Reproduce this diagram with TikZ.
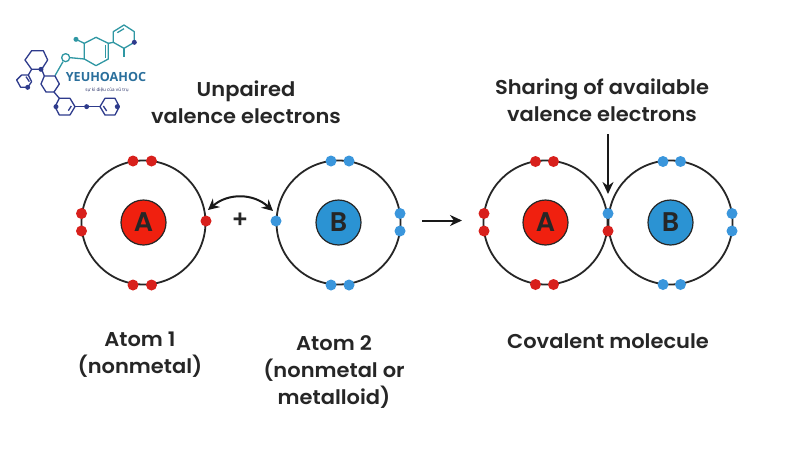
\documentclass[tikz,border=0pt]{standalone}
\usepackage{fontspec}
\setmainfont{Open Sans}
\newfontfamily\labfont[FakeStretch=1.05]{Poppins SemiBold}
\newfontfamily\nucfont{Poppins SemiBold}
\usetikzlibrary{arrows.meta}
\definecolor{redA}{HTML}{F0200F}
\definecolor{redE}{HTML}{D8201C}
\definecolor{blueB}{HTML}{2B93D3}
\definecolor{blueE}{HTML}{3A96DC}
\definecolor{ink}{HTML}{262626}
\definecolor{teal1}{HTML}{2F97A3}
\definecolor{teal2}{HTML}{2A6F9C}
\definecolor{navy}{HTML}{2E3B8C}
\tikzset{
  orbit/.style={circle,draw=ink,line width=1.8pt,minimum size=124pt,inner sep=0pt},
  nucA/.style={circle,draw=black!85,line width=1.2pt,fill=redA,minimum size=45pt,inner sep=0pt,font=\nucfont\fontsize{27}{27}\selectfont,text=black!85},
  nucB/.style={circle,draw=black!85,line width=1.2pt,fill=blueB,minimum size=45pt,inner sep=0pt,font=\nucfont\fontsize{27}{27}\selectfont,text=black!85},
  eR/.style={circle,fill=redE,minimum size=11pt,inner sep=0pt},
  eB/.style={circle,fill=blueE,minimum size=11pt,inner sep=0pt},
  lab/.style={align=center,text=ink,font=\labfont\fontsize{20}{27}\selectfont},
  arr/.style={line width=2pt,draw=black!90,-{Stealth[length=12pt,width=11pt]}},
  dbl/.style={line width=2pt,draw=black!90,{Stealth[length=11pt,width=11pt]}-{Stealth[length=11pt,width=11pt]}},
  lgT/.style={line width=1.3pt,draw=teal1,line join=round},
  lgN/.style={line width=1.3pt,draw=navy,line join=round},
  dotT/.style={circle,fill=teal1,minimum size=5pt,inner sep=0pt},
  dotN/.style={circle,fill=navy,minimum size=5pt,inner sep=0pt},
}
\begin{document}
\begin{tikzpicture}[x=1pt,y=-1pt]
\useasboundingbox[fill=white] (0,0) rectangle (800,450);
% logo
\begin{scope}[shift={(0,10)},x=0.3333pt,y=-0.3333pt]
\draw[lgT] (340,65)--(372,45)--(403,65)--(403,97)--(372,115)--(340,97)--cycle;
\draw[lgT] (352,68)--(372,56);
\draw[lgT] (372,115)--(372,140);
\draw[lgT] (253,100)--(288,82)--(325,100)--(325,147)--(288,167)--(253,147)--cycle;
\draw[lgT] (316,105)--(316,145);
\draw[lgT] (325,100)--(340,97);
\draw[lgT] (228,88)--(253,100);
\draw[lgT] (253,147)--(210,143);
\draw[lgT] (197,143) circle[radius=12];
\draw[lgT] (189,155)--(165,197);
\node[dotN] (l1) at (403,97) {};
\node[dotT] (l2) at (228,88) {};
\draw[lgN] (75,150)--(95,122)--(130,122)--(143,150)--(125,178)--(95,178)--cycle;
\draw[lgN] (50,210)--(65,195)--(85,195)--(95,215)--(83,232)--(62,232)--cycle;
\draw[lgN] (78,200)--(88,215);
\draw[lgN] (95,178)--(85,195);
\draw[lgN] (125,178)--(133,198);
\node[dotN] (l3) at (123,178) {};
\node[dotN] (l4) at (83,232) {};
\draw[lgN] (133,198)--(165,198)--(178,222)--(162,246)--(138,246)--(123,222)--cycle;
\draw[lgN] (162,246)--(178,265);
\draw[lgN] (178,265)--(210,265)--(225,290)--(210,315)--(178,315)--(165,290)--cycle;
\draw[lgN] (205,302)--(214,288);
\draw[lgN] (225,290)--(300,290);
\node[dotN] (l5) at (168,290) {};
\node[dotN] (l6) at (260,290) {};
\draw[lgN] (300,290)--(315,265)--(345,265)--(358,290)--(345,315)--(315,315)--cycle;
\draw[lgN] (310,288)--(320,303);
\node[dotN] (l7) at (352,290) {};
\end{scope}
\node[text=teal2,font=\fontsize{12.6}{14}\selectfont\bfseries,inner sep=0pt] (logoT) at (106,77) {YEUHOAHOC};
\node[text=navy!70!black,font=\fontsize{4.6}{5}\selectfont,inner sep=0pt] (logoS) at (107,90) {sự kì diệu của vũ trụ};
% orbits
\node[orbit] (o1) at (143.5,222.5) {};
\node[orbit] (o2) at (338.5,222.5) {};
\node[orbit] (o3) at (545.5,222.5) {};
\node[orbit] (o4) at (670.5,222.5) {};
\node[nucA] (n1) at (143.5,222.5) {A};
\node[nucB] (n2) at (338.5,222.5) {B};
\node[nucA] (n3) at (545.5,222.5) {A};
\node[nucB] (n4) at (670.5,222.5) {B};
% atom 1 electrons
\node[eR] (a1) at (133,161) {};
\node[eR] (a2) at (151.5,161) {};
\node[eR] (a3) at (133,285) {};
\node[eR] (a4) at (151.5,285) {};
\node[eR] (a5) at (81.5,213.5) {};
\node[eR] (a6) at (81.5,231) {};
\node[eR] (a7) at (206,221) {};
% atom 2 electrons
\node[eB] (b1) at (331,161) {};
\node[eB] (b2) at (349,161) {};
\node[eB] (b3) at (331,285) {};
\node[eB] (b4) at (349,285) {};
\node[eB] (b5) at (400,213.5) {};
\node[eB] (b6) at (400,231) {};
\node[eB] (b7) at (276,221) {};
% molecule electrons
\node[eR] (c1) at (535.5,161.5) {};
\node[eR] (c2) at (553.5,161.5) {};
\node[eR] (c3) at (535.5,284.5) {};
\node[eR] (c4) at (553.5,284.5) {};
\node[eR] (c5) at (484,213.5) {};
\node[eR] (c6) at (484,231) {};
\node[eB] (d1) at (663,161.5) {};
\node[eB] (d2) at (680.5,161.5) {};
\node[eB] (d3) at (663,284.5) {};
\node[eB] (d4) at (680.5,284.5) {};
\node[eB] (d5) at (732,213.5) {};
\node[eB] (d6) at (732,231) {};
\node[eB] (s1) at (608,213.5) {};
\node[eR] (s2) at (608,231) {};
% arrows
\coordinate (ex1) at (208,210);
\coordinate (ex2) at (273,211);
\draw[dbl] (ex1) .. controls (228,193) and (253,193) .. (ex2);
\node[text=ink,font=\fontsize{26}{26}\selectfont\bfseries,inner sep=0pt] (plus) at (240,221) {+};
\coordinate (r1) at (422,220.5);
\coordinate (r2) at (462,220.5);
\draw[arr] (r1) -- (r2);
\coordinate (dn1) at (608,134);
\coordinate (dn2) at (608,194);
\draw[arr] (dn1) -- (dn2);
% labels
\node[lab] (t1) at (246,102.5) {Unpaired\\valence electrons};
\node[lab] (t2) at (602,100) {Sharing of available\\valence electrons};
\node[lab] (t3) at (140,355) {Atom 1\\(nonmetal)};
\node[lab] (t4) at (334,372) {Atom 2\\(nonmetal or\\metalloid)};
\node[lab] (t5) at (608,341) {Covalent molecule};
\end{tikzpicture}
\end{document}
